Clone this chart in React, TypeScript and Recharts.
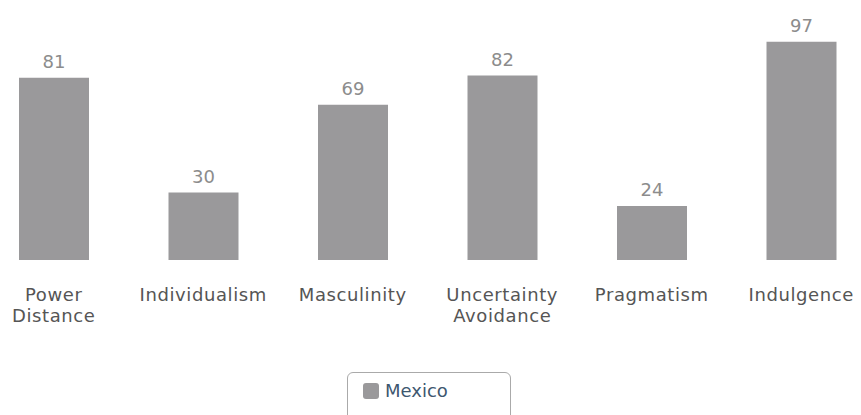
import { Bar, BarChart, LabelList, Legend, XAxis, YAxis } from "recharts"

const dimensions = ["Power Distance", "Individualism", "Masculinity", "Uncertainty Avoidance", "Pragmatism", "Indulgence"]
const mexico = [81, 30, 69, 82, 24, 97]

const data = dimensions.map((name, i) => ({ name, mexico: mexico[i] }))

const FONT = "'DejaVu Sans', Verdana, sans-serif"

function CategoryTick(props: any) {
  const { x, y, payload } = props
  const words = String(payload.value).split(" ")
  return (
    <text x={x} y={y} textAnchor="middle" fill="#555" fontSize={18} letterSpacing={0.6} fontFamily={FONT}>
      {words.map((w, i) => (
        <tspan key={i} x={x} dy={i === 0 ? 33 : 21}>
          {w}
        </tspan>
      ))}
    </text>
  )
}

function LegendBox() {
  return (
    <div
      style={{
        width: 164,
        height: 60,
        boxSizing: "border-box",
        border: "1px solid #aaa",
        borderRadius: 6,
        background: "#fff",
        display: "flex",
        alignItems: "flex-start",
        paddingTop: 8,
        paddingLeft: 15,
        fontFamily: FONT,
        fontSize: 18,
        lineHeight: "20px",
        color: "#3e576f",
      }}
    >
      <span style={{ width: 16, height: 16, borderRadius: 3, background: "#9a999b", marginRight: 6, marginTop: 2 }} />
      <span>Mexico</span>
    </div>
  )
}

export default function App() {
  return (
    <div style={{ position: "absolute", left: -21, top: 0, width: 897, height: 415, overflow: "visible" }}>
      <BarChart
        width={897}
        height={415}
        data={data}
        margin={{ top: 35, right: 0, bottom: 95, left: 0 }}
        barCategoryGap={0}
      >
        <XAxis dataKey="name" axisLine={false} tickLine={false} height={60} interval={0} tick={<CategoryTick />} />
        <YAxis hide domain={[0, 100]} />
        <Legend
          verticalAlign="middle"
          layout="horizontal"
          content={<LegendBox />}
          wrapperStyle={{ position: "absolute", left: 368, top: 372, width: 164 }}
        />
        <Bar dataKey="mexico" name="Mexico" fill="#9a999b" barSize={70} isAnimationActive={false}>
          <LabelList dataKey="mexico" position="top" offset={10} fill="#8c8c8c" fontSize={18} fontFamily={FONT} />
        </Bar>
      </BarChart>
    </div>
  )
}
